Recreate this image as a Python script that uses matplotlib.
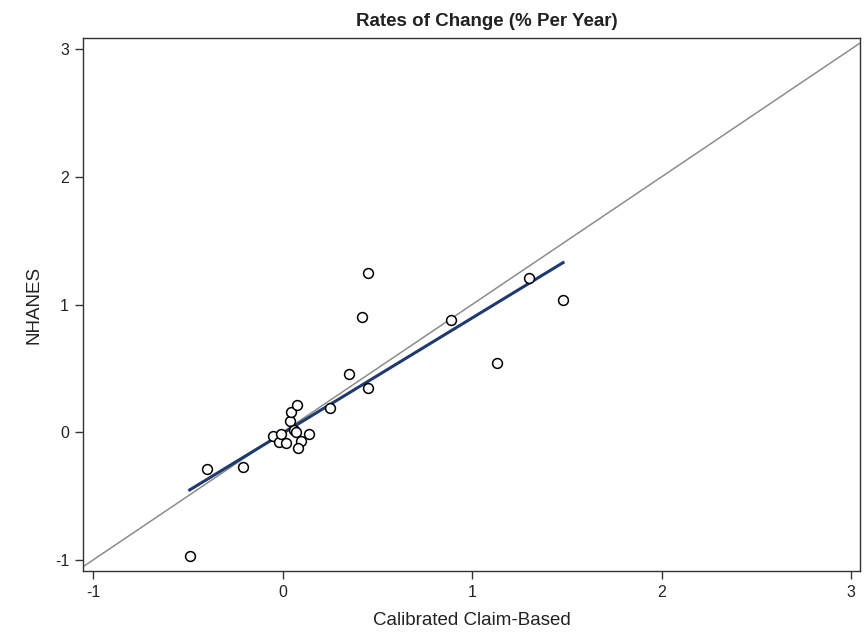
import numpy as np
import matplotlib
matplotlib.use("Agg")
import matplotlib.pyplot as plt

plt.rcParams["font.family"] = ["Liberation Sans", "DejaVu Sans"]
plt.rcParams["axes.unicode_minus"] = False

# Calibrated claim-based vs NHANES rates of change
claim = [-0.49, -0.40, -0.21, -0.053, -0.02, -0.01, 0.016, 0.037, 0.047, 0.074,
         0.063, 0.069, 0.10, 0.084, 0.14, 0.25, 0.45, 0.42, 0.35, 0.45,
         0.89, 1.13, 1.30, 1.48]
nhanes = [-0.965, -0.29, -0.27, -0.03, -0.08, -0.01, -0.085, 0.085, 0.16, 0.21,
          0.02, 0.0, -0.07, -0.12, -0.015, 0.19, 1.25, 0.90, 0.46, 0.35,
          0.88, 0.545, 1.21, 1.035]
ticks = [-1, 0, 1, 2, 3]

x = np.array(claim)
y = np.array(nhanes)
slope, intercept = np.polyfit(x, y, 1)
xf = np.array([x.min(), x.max()])

txt = "#222222"

fig = plt.figure(figsize=(8.68, 6.35), dpi=100)
ax = fig.add_axes([0.0956, 0.1008, 0.8952, 0.8392])

ax.plot([-1.2, 3.2], [-1.2, 3.2], color="#8c8c8c", lw=1.1, zorder=1)
ax.plot(xf, slope * xf + intercept, color="#1f3a6e", lw=2.2, zorder=2)
ax.scatter(x, y, s=50, facecolors="white", edgecolors="black", linewidths=1.1, zorder=3)

ax.set_xlim(-1.053, 3.047)
ax.set_ylim(-1.086, 3.086)
ax.set_xticks(ticks)
ax.set_yticks(ticks)
ax.tick_params(direction="out", length=6, width=1, labelsize=11.5, pad=4,
               colors="#333333", labelcolor=txt)
for s in ax.spines.values():
    s.set_linewidth(1.0)
    s.set_color("#333333")

ax.set_xlabel("Calibrated Claim-Based", fontsize=13.5, labelpad=9, color=txt)
ax.set_ylabel("NHANES", fontsize=13.5, labelpad=9, color=txt)
ax.set_title("Rates of Change (% Per Year)", fontsize=13.5, fontweight="bold",
             pad=9, color=txt, x=0.52)

fig.savefig("out.png", dpi=100)
